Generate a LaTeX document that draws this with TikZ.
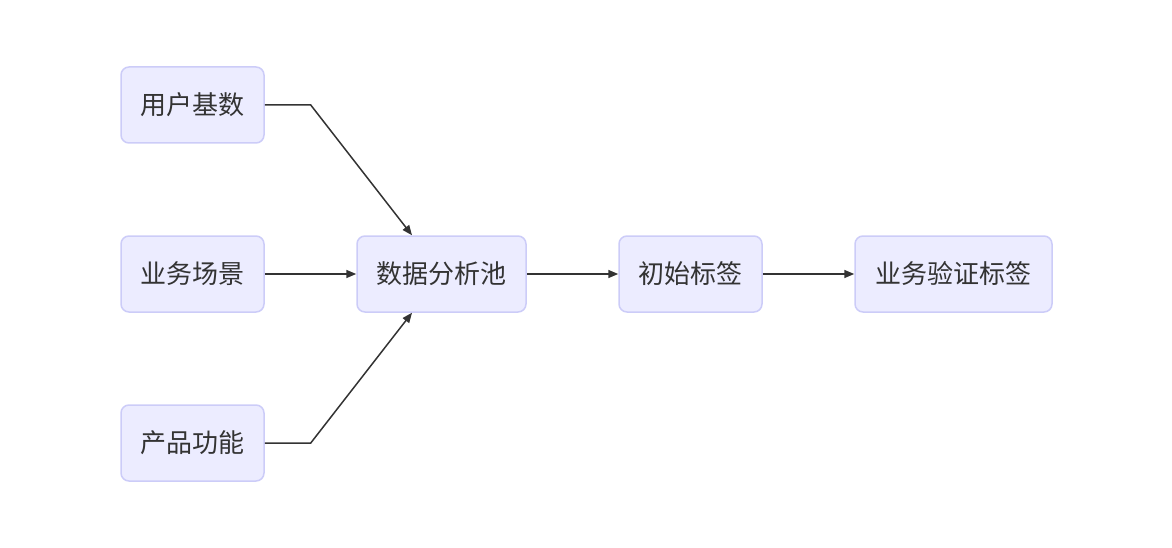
\documentclass[tikz,border=0pt]{standalone}
\usepackage{fontspec}
\setmainfont{Noto Sans CJK SC}
\usepackage{xcolor}
\usetikzlibrary{positioning,calc,arrows.meta}
\definecolor{boxfill}{HTML}{ECECFF}
\definecolor{boxline}{HTML}{CCCCF8}
\definecolor{ink}{HTML}{333333}

\begin{document}
\begin{tikzpicture}[x=1pt,y=-1pt,
    box/.style={draw=boxline,fill=boxfill,line width=1.5pt,rounded corners=8pt,
        minimum height=76pt,text=ink,font=\fontsize{26}{30}\selectfont,inner sep=0pt},
    arr/.style={draw=ink,line width=1.5pt,-{Triangle[length=10pt,width=8pt]}}]
    \useasboundingbox (0,0) rectangle (1172,548);

    % Sources
    \node[box,minimum width=143pt] (users) at (192.5,105) {用户基数};
    \node[box,minimum width=143pt] (scene) at (192.5,274) {业务场景};
    \node[box,minimum width=143pt] (feature) at (192.5,443) {产品功能};

    % Pipeline
    \node[box,minimum width=169pt] (pool) at (441.5,274) {数据分析池};
    \node[box,minimum width=143pt] (init) at (690.5,274) {初始标签};
    \node[box,minimum width=197pt] (verify) at (953.5,274) {业务验证标签};

    \draw[arr] (users.east) -- ++(46,0) -- ([xshift=-29.5pt]pool.north);
    \draw[arr] (scene) -- (pool);
    \draw[arr] (feature.east) -- ++(46,0) -- ([xshift=-29.5pt]pool.south);
    \draw[arr] (pool) -- (init);
    \draw[arr] (init) -- (verify);
\end{tikzpicture}
\end{document}
